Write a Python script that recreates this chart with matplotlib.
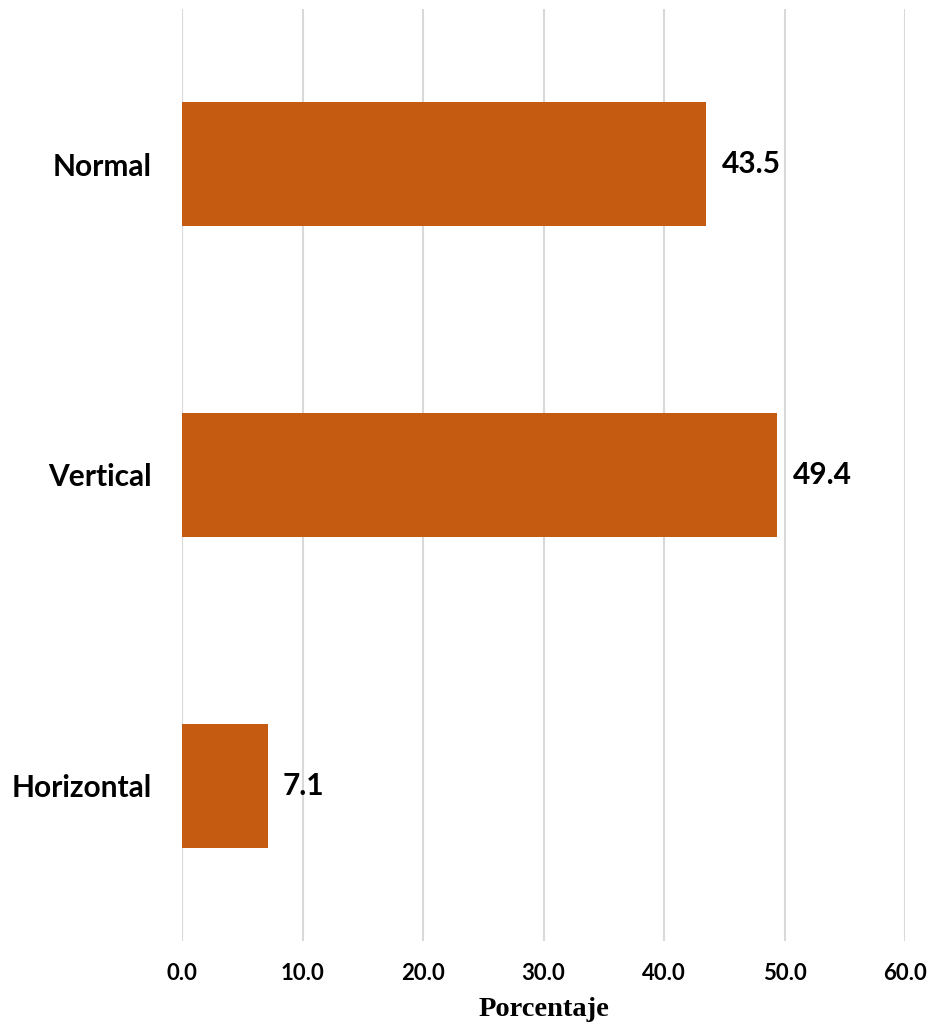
import matplotlib.pyplot as plt

categorias = ["Normal", "Vertical", "Horizontal"]
porcentajes = [43.5, 49.4, 7.1]
ticks_x = [0, 10, 20, 30, 40, 50, 60]

color_barra = "#C55A11"
fuente = "Lato"

fig = plt.figure(figsize=(9.35, 10.32), dpi=100)
ax = fig.add_axes([0.1947, 0.0882, 0.7733, 0.9031])

pos = range(len(categorias))
barras = ax.barh(pos, porcentajes, height=0.4, color=color_barra, zorder=3)
ax.bar_label(barras, labels=[f"{v:.1f}" for v in porcentajes], padding=11,
             fontsize=21.5, fontweight="bold", family=fuente)

ax.set_xlim(0, 60)
ax.set_ylim(2.5, -0.5)
ax.set_xticks(ticks_x)
ax.set_xticklabels([f"{t:.1f}" for t in ticks_x], fontsize=16,
                   fontweight="bold", family=fuente)
ax.set_yticks(list(pos))
ax.set_yticklabels(categorias, fontsize=21.5, fontweight="bold", family=fuente)

ax.grid(axis="x", color="#D9D9D9", linewidth=1.5, zorder=0)
for lado in ax.spines.values():
    lado.set_visible(False)
ax.tick_params(axis="both", length=0)
ax.tick_params(axis="x", pad=16)
ax.tick_params(axis="y", pad=22)

ax.set_xlabel("Porcentaje", fontsize=20.5, fontweight="bold",
              family="Liberation Serif", labelpad=9)

fig.savefig("out.png", dpi=100)
